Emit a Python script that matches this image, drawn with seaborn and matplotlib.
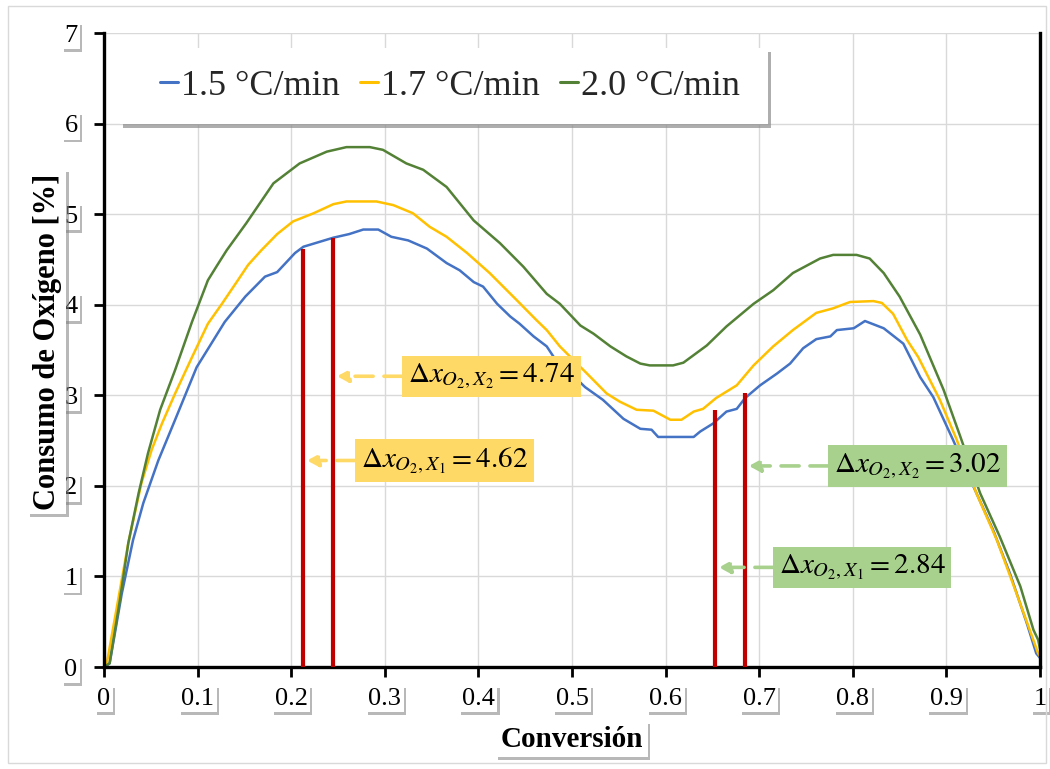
import matplotlib
matplotlib.use("Agg")
import matplotlib.pyplot as plt
import seaborn as sns
import pandas as pd
from matplotlib import patheffects as pe
from matplotlib.patches import Rectangle

# --- data -------------------------------------------------------------
rates = ["1.5 °C/min", "1.7 °C/min", "2.0 °C/min"]
colors = ["#4472C4", "#FFC000", "#538135"]

conv_15 = [0, 0.006, 0.019, 0.031, 0.042, 0.058, 0.076, 0.099, 0.129, 0.151,
           0.172, 0.185, 0.204, 0.213, 0.245, 0.262, 0.277, 0.293, 0.307, 0.325,
           0.345, 0.366, 0.380, 0.395, 0.405, 0.420, 0.434, 0.444, 0.459, 0.473,
           0.480, 0.497, 0.514, 0.533, 0.555, 0.573, 0.585, 0.592, 0.630, 0.637,
           0.651, 0.665, 0.676, 0.685, 0.701, 0.719, 0.733, 0.747, 0.761, 0.776,
           0.783, 0.801, 0.813, 0.833, 0.854, 0.872, 0.886, 0.907, 0.929, 0.950,
           0.968, 0.986, 0.996, 1.0]
o2_15 = [0, 0.04, 0.81, 1.40, 1.81, 2.28, 2.73, 3.31, 3.81, 4.09,
         4.31, 4.36, 4.57, 4.64, 4.74, 4.78, 4.83, 4.83, 4.75, 4.71,
         4.62, 4.46, 4.38, 4.25, 4.20, 4.01, 3.87, 3.79, 3.65, 3.54,
         3.43, 3.26, 3.09, 2.95, 2.74, 2.63, 2.62, 2.54, 2.54, 2.60,
         2.69, 2.82, 2.85, 2.97, 3.11, 3.24, 3.35, 3.52, 3.62, 3.65,
         3.72, 3.74, 3.82, 3.74, 3.57, 3.20, 2.98, 2.51, 1.99, 1.51,
         1.03, 0.48, 0.15, 0.10]

conv_17 = [0, 0.003, 0.017, 0.026, 0.040, 0.051, 0.062, 0.076, 0.094, 0.111,
           0.126, 0.143, 0.154, 0.168, 0.185, 0.202, 0.224, 0.245, 0.259, 0.291,
           0.309, 0.330, 0.348, 0.366, 0.388, 0.412, 0.441, 0.462, 0.473, 0.487,
           0.516, 0.537, 0.551, 0.569, 0.587, 0.605, 0.617, 0.630, 0.640, 0.654,
           0.676, 0.694, 0.715, 0.736, 0.761, 0.779, 0.797, 0.822, 0.831, 0.843,
           0.858, 0.870, 0.893, 0.911, 0.932, 0.954, 0.975, 0.989, 0.998, 1.0]
o2_17 = [0, 0.04, 0.85, 1.37, 2.03, 2.40, 2.69, 3.02, 3.42, 3.79,
         4.01, 4.27, 4.44, 4.60, 4.78, 4.92, 5.01, 5.11, 5.14, 5.14,
         5.10, 5.01, 4.86, 4.75, 4.57, 4.35, 4.05, 3.83, 3.72, 3.54,
         3.24, 3.02, 2.93, 2.84, 2.83, 2.73, 2.73, 2.82, 2.85, 2.97,
         3.11, 3.33, 3.54, 3.72, 3.91, 3.96, 4.03, 4.04, 4.02, 3.90,
         3.61, 3.42, 2.95, 2.51, 1.92, 1.40, 0.81, 0.41, 0.15, 0.12]

conv_20 = [0, 0.006, 0.017, 0.026, 0.037, 0.047, 0.060, 0.076, 0.094, 0.111,
           0.120, 0.131, 0.152, 0.181, 0.209, 0.238, 0.259, 0.284, 0.298, 0.323,
           0.341, 0.366, 0.395, 0.423, 0.448, 0.473, 0.487, 0.509, 0.523, 0.541,
           0.558, 0.573, 0.583, 0.608, 0.619, 0.644, 0.665, 0.694, 0.715, 0.736,
           0.765, 0.779, 0.804, 0.818, 0.833, 0.850, 0.872, 0.897, 0.915, 0.936,
           0.957, 0.979, 0.993, 0.998, 1.0]
o2_20 = [0, 0.04, 0.74, 1.37, 1.92, 2.36, 2.84, 3.28, 3.81, 4.27,
         4.42, 4.60, 4.90, 5.34, 5.56, 5.69, 5.74, 5.74, 5.71, 5.56,
         5.49, 5.30, 4.93, 4.68, 4.42, 4.12, 4.01, 3.77, 3.68, 3.54,
         3.43, 3.35, 3.33, 3.33, 3.36, 3.55, 3.76, 4.01, 4.16, 4.35,
         4.51, 4.55, 4.55, 4.51, 4.35, 4.09, 3.67, 3.06, 2.54, 1.92,
         1.44, 0.89, 0.41, 0.30, 0.20]

# conversion points marked with vertical bars and their oxygen consumption
mark_x = [0.213, 0.245, 0.653, 0.685]
mark_val = [4.62, 4.74, 2.84, 3.02]
mark_idx = [1, 2, 1, 2]

x_ticks = [0, 0.1, 0.2, 0.3, 0.4, 0.5, 0.6, 0.7, 0.8, 0.9, 1.0]
x_ticklabels = ["0", "0.1", "0.2", "0.3", "0.4", "0.5", "0.6", "0.7", "0.8", "0.9", "1"]
y_ticks = [0, 1, 2, 3, 4, 5, 6, 7]

frames = []
for rate, cx, oy in zip(rates, [conv_15, conv_17, conv_20], [o2_15, o2_17, o2_20]):
    frames.append(pd.DataFrame({"Conversión": cx, "O2": oy, "Velocidad": rate}))
df = pd.concat(frames, ignore_index=True)

# --- style ------------------------------------------------------------
sns.set_theme(style="whitegrid")
plt.rcParams["font.family"] = ["Liberation Serif", "DejaVu Serif"]
plt.rcParams["mathtext.fontset"] = "stix"

fig = plt.figure(figsize=(10.5, 7.69), dpi=100)
fig.patch.set_facecolor("white")
ax = fig.add_axes([104 / 1050, 1 - 667 / 769, 936 / 1050, 634 / 769])
ax.set_facecolor("white")

sns.lineplot(data=df, x="Conversión", y="O2", hue="Velocidad",
             palette=dict(zip(rates, colors)), estimator=None, sort=False,
             linewidth=1.8, ax=ax)

ax.vlines(mark_x, 0, mark_val, colors="#C00000", linewidth=3.0, zorder=4)

ax.set_xlim(0, 1)
ax.set_ylim(0, 7)
ax.set_xticks(x_ticks)
ax.set_xticklabels(x_ticklabels)
ax.set_yticks(y_ticks)
ax.grid(True, color="#D9D9D9", linewidth=1.0)
ax.set_axisbelow(True)

for side in ["left", "bottom", "right"]:
    ax.spines[side].set_visible(True)
    ax.spines[side].set_color("black")
    ax.spines[side].set_linewidth(2.4)
ax.spines["top"].set_visible(False)

ax.tick_params(axis="both", which="major", direction="out", length=7, width=2,
               color="black", labelsize=19, labelcolor="black",
               bottom=True, left=True)
ax.tick_params(axis="x", pad=8)
ax.tick_params(axis="y", pad=12)

shadow_fx = [pe.withSimplePatchShadow(offset=(1.5, -2), shadow_rgbFace="#7f7f7f", alpha=0.55),
             pe.Normal()]


def boxed(txt, pad=0.1):
    txt.set_bbox(dict(boxstyle=f"square,pad={pad}", fc="white", ec="none"))
    txt.get_bbox_patch().set_path_effects(shadow_fx)


for lbl in ax.get_xticklabels() + ax.get_yticklabels():
    boxed(lbl)

ax.set_xlabel("Conversión", fontsize=21, fontweight="bold", color="black")
ax.set_ylabel("Consumo de Oxígeno [%]", fontsize=22, fontweight="bold", color="black")
ax.xaxis.set_label_coords(0.5, -0.093)
ax.yaxis.set_label_coords(-0.045, 0.513)
boxed(ax.xaxis.label, pad=0.15)
boxed(ax.yaxis.label, pad=0.15)

# legend panel: white box with a soft drop shadow, entries spread inside it
panel = Rectangle((0.017, 0.856), 0.692, 0.12, transform=ax.transAxes,
                  facecolor="white", edgecolor="none", zorder=7)
panel.set_path_effects([pe.withSimplePatchShadow(offset=(2.5, -3), shadow_rgbFace="#8c8c8c",
                                                 alpha=0.7),
                        pe.Normal()])
ax.add_patch(panel)

handles, labels = ax.get_legend_handles_labels()
leg = ax.legend(handles, labels, ncol=3, loc="center left",
                bbox_to_anchor=(0.0598, 0.9164, 0.6197, 0.0), mode="expand",
                fontsize=26, handlelength=0.5, handletextpad=0.08,
                columnspacing=0.5, borderpad=0, borderaxespad=0,
                frameon=False)
leg.set_zorder(8)
for h in leg.get_lines():
    h.set_linewidth(2.2)

# value call-outs pointing at the vertical bars
box_left = [0.2682, 0.3184, 0.7147, 0.7735]
box_y = [2.28, 3.21, 1.10, 2.22]
box_face = ["#FFD966", "#FFD966", "#A9D18E", "#A9D18E"]
for xm, val, k, xl, yb, fc in zip(mark_x, mark_val, mark_idx, box_left, box_y, box_face):
    label = rf"$\Delta x_{{O_2,X_{k}}} = {val:.2f}$"
    ax.text(xl + 0.006, yb, label, ha="left", va="center", fontsize=21,
            color="black", zorder=6,
            bbox=dict(boxstyle="square,pad=0.2", fc=fc, ec="none"))
    ax.annotate("", xy=(xm + 0.004, yb), xytext=(xl, yb),
                arrowprops=dict(arrowstyle="-|>,head_length=0.55,head_width=0.3",
                                color=fc, lw=2.6, linestyle=(0, (5, 3)),
                                shrinkA=0, shrinkB=0),
                zorder=5)

# light frame around the whole chart area
fig.patches.append(Rectangle((8 / 1050, 6 / 769), 1038 / 1050, 757 / 769,
                             transform=fig.transFigure, fill=False,
                             edgecolor="#D9D9D9", linewidth=1.0))

fig.savefig("out.png", dpi=100, facecolor="white")
